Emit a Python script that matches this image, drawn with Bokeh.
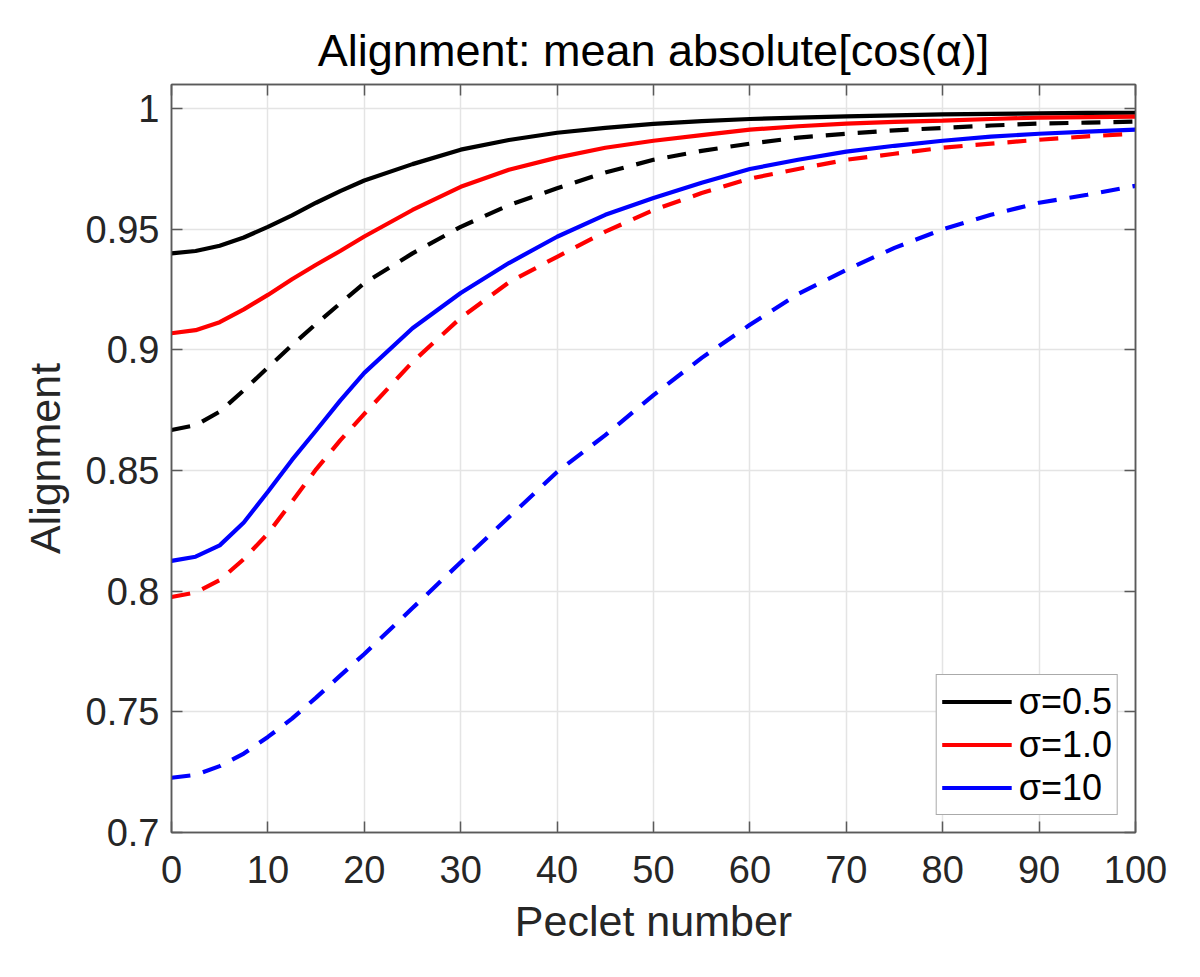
from bokeh.plotting import figure
from bokeh.models import FixedTicker, LinearAxis, Legend, LegendItem, Range1d
from bokeh.embed import file_html
from bokeh.resources import INLINE

# ---- data ----
peclet = [0, 2.5, 5, 7.5, 10, 12.5, 15, 17.5, 20, 25, 30, 35, 40, 45, 50, 55, 60, 65, 70, 75, 80, 85, 90, 95, 100]

black_solid = [0.9400, 0.9410, 0.9432, 0.9466, 0.9510, 0.9558, 0.9610, 0.9658, 0.9702,
               0.9770, 0.9830, 0.9870, 0.9900, 0.9920,
               0.9937, 0.9948, 0.9957, 0.9963, 0.9968, 0.9972, 0.9976, 0.9978, 0.9980, 0.9982, 0.9983]
red_solid = [0.9069, 0.9082, 0.9115, 0.9168, 0.9228, 0.9293, 0.9353, 0.9410, 0.9470,
             0.9580, 0.9676, 0.9747, 0.9797, 0.9838,
             0.9867, 0.9890, 0.9913, 0.9927, 0.9938, 0.9945, 0.9950, 0.9957, 0.9963, 0.9965, 0.9967]
blue_solid = [0.8126, 0.8143, 0.8190, 0.8285, 0.8412, 0.8544, 0.8666, 0.8790, 0.8905,
              0.9090, 0.9236, 0.9360, 0.9469, 0.9560,
              0.9630, 0.9693, 0.9750, 0.9788, 0.9822, 0.9846, 0.9867, 0.9884, 0.9896, 0.9905, 0.9913]
black_dashed = [0.8668, 0.8688, 0.8744, 0.8833, 0.8927, 0.9020, 0.9108, 0.9193, 0.9277,
                0.9400, 0.9510, 0.9600, 0.9670, 0.9735,
                0.9788, 0.9825, 0.9855, 0.9880, 0.9896, 0.9910, 0.9920, 0.9930, 0.9938, 0.9942, 0.9946]
red_dashed = [0.7976, 0.7995, 0.8046, 0.8133, 0.8239, 0.8371, 0.8505, 0.8625, 0.8735,
              0.8950, 0.9133, 0.9280, 0.9386, 0.9490,
              0.9580, 0.9650, 0.9710, 0.9750, 0.9788, 0.9813, 0.9838, 0.9855, 0.9871, 0.9885, 0.9896]
blue_dashed = [0.7227, 0.7239, 0.7275, 0.7327, 0.7396, 0.7472, 0.7559, 0.7650, 0.7740,
               0.7930, 0.8120, 0.8307, 0.8494, 0.8647,
               0.8813, 0.8967, 0.9104, 0.9232, 0.9332, 0.9423, 0.9500, 0.9560, 0.9610, 0.9643, 0.9680]

legend_labels = ["\u03c3=0.5", "\u03c3=1.0", "\u03c3=10"]
x_ticks = [0, 10, 20, 30, 40, 50, 60, 70, 80, 90, 100]
y_ticks = [0.7, 0.75, 0.8, 0.85, 0.9, 0.95, 1.0]
y_tick_labels = ["0.7", "0.75", "0.8", "0.85", "0.9", "0.95", "1"]

FONT = "Liberation Sans"
AX = "#5a5a5a"
TXT = "#262626"

p = figure(width=1180, height=960, output_backend="svg", toolbar_location=None,
           x_range=Range1d(0, 100), y_range=Range1d(0.7, 1.01),
           x_axis_location=None, y_axis_location=None,
           min_border_left=171, min_border_right=45, min_border_top=84, min_border_bottom=128,
           title="Alignment: mean absolute[cos(\u03b1)]")

p.title.text_font = FONT
p.title.text_font_size = "45px"
p.title.text_font_style = "normal"
p.title.text_color = "black"
p.title.align = "center"
p.title.standoff = 18

p.outline_line_color = AX
p.outline_line_width = 1.5
p.background_fill_color = "white"
p.border_fill_color = "white"

lw = 4.2
dash = "19 13"
r_bs = p.line(peclet, black_solid, line_color="black", line_width=lw)
r_rs = p.line(peclet, red_solid, line_color="#ff0000", line_width=lw)
r_us = p.line(peclet, blue_solid, line_color="#0000ff", line_width=lw)
p.line(peclet, black_dashed, line_color="black", line_width=lw, line_dash=dash)
p.line(peclet, red_dashed, line_color="#ff0000", line_width=lw, line_dash=dash)
p.line(peclet, blue_dashed, line_color="#0000ff", line_width=lw, line_dash=dash)

bottom = LinearAxis(ticker=FixedTicker(ticks=x_ticks), axis_label="Peclet number")
left = LinearAxis(ticker=FixedTicker(ticks=y_ticks), axis_label="Alignment",
                  major_label_overrides={t: l for t, l in zip(y_ticks, y_tick_labels)})
top = LinearAxis(ticker=FixedTicker(ticks=x_ticks),
                 major_label_overrides={t: "" for t in x_ticks})
right = LinearAxis(ticker=FixedTicker(ticks=y_ticks),
                   major_label_overrides={t: "" for t in y_ticks})
p.add_layout(bottom, "below")
p.add_layout(left, "left")
p.add_layout(top, "above")
p.add_layout(right, "right")

for ax in (bottom, left, top, right):
    ax.axis_line_color = AX
    ax.axis_line_width = 1.5
    ax.major_tick_line_color = AX
    ax.major_tick_line_width = 1.5
    ax.major_tick_in = 11
    ax.major_tick_out = 0
    ax.minor_tick_line_color = None
    ax.major_label_text_font = FONT
    ax.major_label_text_color = TXT
    ax.axis_label_text_font = FONT
    ax.axis_label_text_color = TXT
    ax.axis_label_text_font_style = "normal"

for ax in (top, right):
    ax.major_label_standoff = 0

for ax in (bottom, left):
    ax.major_label_text_font_size = "38px"
    ax.axis_label_text_font_size = "43px"
bottom.major_label_standoff = 23
left.major_label_standoff = 12
bottom.axis_label_standoff = 11
left.axis_label_standoff = 14

p.grid.grid_line_color = "#e4e4e4"
p.grid.grid_line_width = 1.5
p.xgrid.ticker = FixedTicker(ticks=x_ticks)
p.ygrid.ticker = FixedTicker(ticks=y_ticks)

legend = Legend(items=[LegendItem(label=legend_labels[0], renderers=[r_bs]),
                       LegendItem(label=legend_labels[1], renderers=[r_rs]),
                       LegendItem(label=legend_labels[2], renderers=[r_us])],
                location="bottom_right")
legend.margin = 17
legend.padding = 5
legend.spacing = 0
legend.glyph_width = 70
legend.glyph_height = 43
legend.label_height = 43
legend.label_standoff = 7
legend.label_text_font = FONT
legend.label_text_font_size = "36px"
legend.label_text_color = "black"
legend.border_line_color = "#555555"
legend.border_line_width = 1.5
legend.background_fill_alpha = 1.0
p.add_layout(legend)

open("out.html", "w").write(file_html(p, INLINE))
